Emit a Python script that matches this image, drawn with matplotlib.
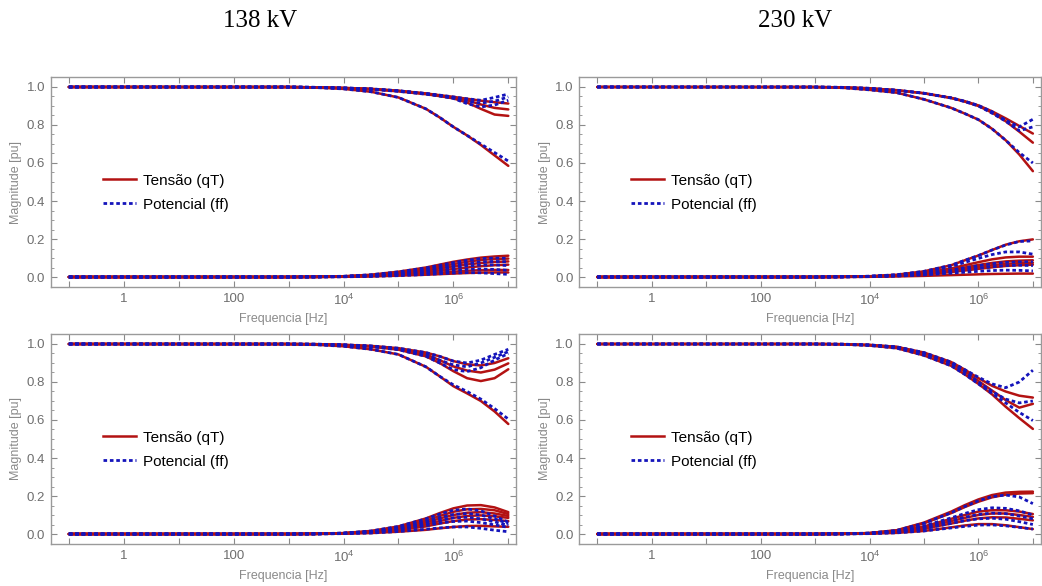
import numpy as np
import matplotlib
matplotlib.use('Agg')
import matplotlib.pyplot as plt
from matplotlib.lines import Line2D
from matplotlib.ticker import FixedLocator, MultipleLocator, FormatStrFormatter

plt.rcParams['font.family'] = ['Liberation Sans', 'DejaVu Sans']
plt.rcParams['mathtext.default'] = 'regular'

# frequency grid, log10(f) [Hz]
LOG_F = [-1, 3, 3.5, 4, 4.5, 5, 5.5, 5.75, 6, 6.25, 6.5, 6.75, 7]

# 138 kV, top panel
TL_QT = [
    [1, 1, .998, .995, .99, .98, .966, .957, .948, .938, .928, .92, .913],
    [1, 1, .998, .995, .99, .98, .965, .955, .944, .93, .908, .89, .882],
    [1, 1, .998, .994, .988, .977, .962, .952, .94, .918, .885, .855, .848],
    [1, .999, .997, .99, .975, .945, .885, .84, .79, .745, .695, .64, .585],
    [0, 0, .001, .004, .012, .028, .05, .065, .08, .092, .102, .108, .112],
    [0, 0, .001, .003, .01, .023, .042, .055, .068, .08, .09, .095, .097],
    [0, 0, .001, .003, .008, .018, .034, .045, .056, .066, .074, .079, .082],
    [0, 0, .001, .002, .006, .014, .026, .034, .042, .05, .057, .062, .065],
    [0, 0, 0, .002, .005, .01, .018, .023, .028, .033, .036, .037, .037],
    [0, 0, 0, .001, .003, .007, .012, .015, .018, .021, .023, .024, .024],
]
TL_FF = [
    [1, 1, .998, .995, .99, .98, .966, .957, .948, .938, .93, .945, .963],
    [1, 1, .998, .995, .99, .98, .965, .955, .944, .925, .915, .925, .948],
    [1, 1, .998, .994, .988, .977, .962, .952, .94, .912, .895, .905, .93],
    [1, .999, .997, .99, .975, .945, .885, .84, .79, .745, .70, .655, .61],
    [0, 0, .001, .004, .012, .027, .048, .062, .076, .088, .097, .1, .098],
    [0, 0, .001, .003, .009, .02, .038, .05, .062, .072, .08, .082, .08],
    [0, 0, .001, .003, .007, .016, .03, .04, .05, .058, .063, .064, .06],
    [0, 0, .001, .002, .005, .012, .022, .028, .035, .04, .042, .04, .035],
    [0, 0, 0, .001, .003, .007, .013, .017, .021, .023, .022, .018, .014],
]

# 230 kV, top panel
TR_QT = [
    [1, 1, .998, .993, .983, .967, .943, .925, .903, .872, .835, .795, .755],
    [1, 1, .998, .993, .983, .967, .942, .923, .90, .865, .82, .765, .707],
    [1, .999, .996, .985, .97, .935, .89, .86, .828, .78, .72, .645, .557],
    [0, 0, .001, .004, .012, .03, .062, .088, .113, .142, .17, .188, .198],
    [0, 0, .001, .003, .009, .022, .045, .062, .078, .093, .103, .107, .107],
    [0, 0, .001, .003, .008, .019, .038, .05, .063, .074, .082, .086, .088],
    [0, 0, .001, .002, .007, .016, .032, .042, .053, .062, .069, .073, .075],
    [0, 0, .001, .002, .006, .013, .026, .034, .043, .051, .058, .062, .065],
    [0, 0, 0, .001, .003, .006, .01, .012, .014, .016, .017, .018, .018],
]
TR_FF = [
    [1, 1, .998, .993, .983, .967, .943, .925, .903, .87, .825, .79, .83],
    [1, 1, .998, .993, .983, .967, .942, .923, .90, .862, .82, .77, .79],
    [1, .999, .996, .985, .97, .935, .89, .86, .828, .78, .72, .655, .60],
    [0, 0, .001, .004, .012, .03, .062, .088, .113, .142, .168, .187, .19],
    [0, 0, .001, .004, .011, .027, .055, .077, .098, .118, .132, .132, .12],
    [0, 0, .001, .003, .008, .019, .037, .049, .06, .07, .077, .08, .08],
    [0, 0, .001, .002, .006, .014, .028, .037, .046, .054, .06, .062, .06],
    [0, 0, .001, .002, .005, .011, .02, .025, .03, .034, .036, .035, .032],
]

# 138 kV, bottom panel
BL_QT = [
    [1, 1, .999, .996, .99, .978, .955, .935, .91, .893, .887, .90, .925],
    [1, 1, .999, .995, .988, .974, .945, .915, .882, .86, .85, .865, .898],
    [1, 1, .998, .994, .986, .97, .935, .90, .857, .82, .805, .82, .867],
    [1, .999, .996, .988, .972, .945, .88, .83, .778, .74, .70, .645, .579],
    [0, 0, .001, .005, .016, .04, .082, .11, .135, .15, .152, .14, .115],
    [0, 0, .001, .004, .014, .035, .07, .095, .117, .13, .132, .125, .105],
    [0, 0, .001, .004, .012, .03, .06, .082, .10, .112, .115, .108, .095],
    [0, 0, .001, .003, .01, .025, .05, .068, .085, .095, .098, .093, .085],
    [0, 0, .001, .003, .008, .02, .04, .055, .068, .076, .078, .074, .068],
    [0, 0, 0, .002, .005, .012, .022, .03, .037, .042, .043, .04, .038],
]
BL_FF = [
    [1, 1, .999, .996, .99, .978, .955, .935, .91, .90, .915, .945, .972],
    [1, 1, .999, .995, .988, .974, .945, .915, .89, .88, .90, .93, .96],
    [1, 1, .998, .994, .986, .97, .935, .90, .865, .855, .875, .915, .95],
    [1, .999, .996, .988, .972, .945, .88, .83, .785, .75, .71, .66, .605],
    [0, 0, .001, .005, .016, .04, .08, .105, .125, .132, .122, .095, .062],
    [0, 0, .001, .004, .013, .033, .066, .087, .103, .108, .10, .08, .055],
    [0, 0, .001, .004, .011, .028, .055, .072, .085, .088, .08, .064, .045],
    [0, 0, .001, .003, .009, .022, .044, .057, .066, .068, .06, .048, .035],
    [0, 0, 0, .002, .005, .013, .025, .032, .037, .037, .03, .02, .012],
]

# 230 kV, bottom panel
BR_QT = [
    [1, 1, .999, .995, .985, .955, .905, .865, .82, .78, .75, .728, .718],
    [1, 1, .999, .995, .984, .952, .898, .855, .805, .755, .705, .665, .685],
    [1, 1, .998, .992, .978, .94, .885, .84, .79, .735, .67, .61, .553],
    [0, 0, .001, .005, .02, .06, .118, .152, .182, .205, .218, .222, .223],
    [0, 0, .001, .005, .019, .056, .11, .142, .17, .193, .207, .213, .215],
    [0, 0, .001, .004, .014, .04, .08, .10, .118, .125, .125, .118, .105],
    [0, 0, .001, .003, .012, .034, .068, .085, .10, .108, .108, .10, .09],
    [0, 0, .001, .003, .01, .028, .055, .07, .082, .088, .087, .08, .072],
    [0, 0, 0, .002, .006, .016, .035, .045, .052, .052, .046, .036, .026],
]
BR_FF = [
    [1, 1, .999, .995, .985, .955, .905, .865, .825, .79, .77, .80, .862],
    [1, 1, .999, .995, .984, .952, .898, .855, .80, .75, .71, .69, .70],
    [1, 1, .998, .992, .978, .94, .885, .84, .79, .74, .69, .64, .597],
    [0, 0, .001, .005, .019, .057, .112, .145, .175, .197, .205, .195, .16],
    [0, 0, .001, .004, .015, .043, .085, .108, .128, .138, .135, .122, .10],
    [0, 0, .001, .003, .012, .035, .07, .088, .103, .11, .107, .095, .08],
    [0, 0, .001, .003, .01, .028, .056, .07, .08, .083, .078, .065, .05],
    [0, 0, 0, .002, .006, .016, .032, .04, .047, .048, .043, .035, .026],
]

TITLES = ['138 kV', '230 kV']
LABELS = ['Tensão (qT)', 'Potencial (ff)']

RED = '#b31212'
BLUE = '#1414bb'
GRAY = '#8a8a8a'
DOTS = (0, (1.3, 1.0))

freq = 10.0 ** np.array(LOG_F)

fig = plt.figure(figsize=(10.42, 5.86), dpi=100)

W, H = 1042, 586
boxes = [(50.7, 77, 516, 287), (579.3, 77, 1040.5, 287),
         (50.7, 334, 516, 544), (579.3, 334, 1040.5, 544)]
panels = [(TL_QT, TL_FF), (TR_QT, TR_FF), (BL_QT, BL_FF), (BR_QT, BR_FF)]

for (x0, y0, x1, y1), (qt, ff) in zip(boxes, panels):
    ax = fig.add_axes([x0 / W, 1 - y1 / H, (x1 - x0) / W, (y1 - y0) / H])
    for y in qt:
        ax.plot(freq, y, color=RED, lw=1.8, solid_capstyle='round')
    for y in ff:
        ax.plot(freq, y, color=BLUE, lw=2.0, ls=DOTS)

    ax.set_xscale('log')
    ax.set_xlim(10 ** -1.33, 10 ** 7.14)
    ax.set_ylim(-0.0526, 1.0526)

    dec = [10.0 ** k for k in range(-1, 8)]
    ax.xaxis.set_major_locator(FixedLocator(dec))
    ax.xaxis.set_minor_locator(FixedLocator([]))
    ax.set_xticklabels(['', '1', '', '100', '', '$10^{4}$', '', '$10^{6}$', ''])
    ax.yaxis.set_major_locator(MultipleLocator(0.2))
    ax.yaxis.set_minor_locator(MultipleLocator(0.05))
    ax.yaxis.set_major_formatter(FormatStrFormatter('%.1f'))

    ax.tick_params(which='both', direction='in', top=True, right=True,
                   colors=GRAY, labelcolor='#6e6e6e', labelsize=9.5, pad=4)
    ax.tick_params(which='major', length=4, width=0.8)
    ax.tick_params(which='minor', length=2.2, width=0.6)
    for s in ax.spines.values():
        s.set_color('#9a9a9a')
        s.set_linewidth(1)

    ax.set_xlabel('Frequencia [Hz]', color=GRAY, fontsize=9, labelpad=4)
    ax.set_ylabel('Magnitude [pu]', color=GRAY, fontsize=9, labelpad=3)

    handles = [Line2D([], [], color=RED, lw=1.8),
               Line2D([], [], color=BLUE, lw=2.0, ls=DOTS)]
    ax.legend(handles, LABELS, loc='upper left', bbox_to_anchor=(0.112, 0.54),
              frameon=False, fontsize=11, handlelength=2.15, handletextpad=0.5,
              labelspacing=0.65, borderpad=0, borderaxespad=0)

fig.text(260 / W, 1 - 21 / H, TITLES[0], ha='center', va='center',
         family='Liberation Serif', fontsize=18)
fig.text(795 / W, 1 - 21 / H, TITLES[1], ha='center', va='center',
         family='Liberation Serif', fontsize=18)

fig.savefig('out.png', dpi=100)
